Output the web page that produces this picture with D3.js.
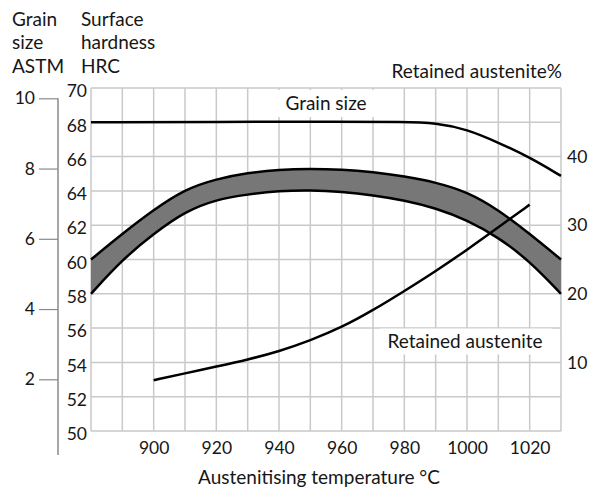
<!DOCTYPE html>
<html>
<head>
<meta charset="utf-8">
<script src="https://cdn.jsdelivr.net/npm/d3@7"></script>
<style>
  body { margin: 0; background: #fff; }
  svg { display: block; font-family: Lato, "Open Sans", sans-serif; }
</style>
</head>
<body>
<div id="chart"></div>
<script>
const temps = [880, 890, 900, 910, 920, 930, 940, 950, 960, 970, 980, 990, 1000, 1010, 1020, 1030];
const hardnessUpper = [60, 61.5, 62.9, 64.1, 64.7, 65.05, 65.25, 65.3, 65.25, 65.1, 64.85, 64.5, 63.95, 62.9, 61.5, 60.0];
const hardnessLower = [58, 60.0, 61.5, 62.8, 63.5, 63.8, 64.0, 64.05, 63.95, 63.75, 63.45, 63.0, 62.3, 61.3, 59.9, 58.0];

const grainTemps = [880, 920, 960, 980, 990, 1000, 1010, 1020, 1030];
const grainSize = [9.32, 9.33, 9.33, 9.33, 9.3, 9.12, 8.74, 8.32, 7.79];

const austTemps = [900, 910, 920, 930, 940, 950, 960, 970, 980, 990, 1000, 1010, 1020];
const austenite = [7.4, 8.4, 9.4, 10.4, 11.6, 13.2, 15.1, 17.6, 20.4, 23.3, 26.4, 29.7, 33.0];

const xTicks = [900, 920, 940, 960, 980, 1000, 1020];
const hrcTicks = [50, 52, 54, 56, 58, 60, 62, 64, 66, 68, 70];
const grainTicks = [2, 4, 6, 8, 10];
const austTicks = [10, 20, 30, 40];

const width = 598, height = 489;
const marginTop = 88, marginRight = 37, marginBottom = 58, marginLeft = 91;
const ink = "#161616";
const gridColor = "#c9c9c9";
const tickFont = 17.5, labelFont = 19;

const x = d3.scaleLinear().domain([880, 1030]).range([marginLeft, width - marginRight]);
const y = d3.scaleLinear().domain([50, 70]).range([height - marginBottom, marginTop]);
const yGrain = d3.scaleLinear().domain([2, 10]).range([379.3, 98.3]);
const yAust = d3.scaleLinear().domain([0, 50]).range([height - marginBottom, marginTop]);

const svg = d3.select("#chart").append("svg")
    .attr("width", width)
    .attr("height", height)
    .attr("viewBox", [0, 0, width, height]);

// grid
const grid = svg.append("g").attr("stroke", gridColor).attr("stroke-width", 1.5);
grid.selectAll(".v")
    .data(d3.range(880, 1031, 10))
    .join("line")
    .attr("x1", d => x(d)).attr("x2", d => x(d))
    .attr("y1", y(50)).attr("y2", y(70));
grid.selectAll(".h")
    .data(d3.range(50, 71, 2))
    .join("line")
    .attr("x1", x(880)).attr("x2", x(1030))
    .attr("y1", d => y(d)).attr("y2", d => y(d));

// white boxes behind in-plot labels
svg.append("rect")
    .attr("x", x(955) - 55).attr("y", y(70) + 2)
    .attr("width", 110).attr("height", 27)
    .attr("fill", "#fff");
svg.append("rect")
    .attr("x", x(1000) - 87).attr("y", y(55.1) - 15)
    .attr("width", 172).attr("height", 26)
    .attr("fill", "#fff");

// hardness band
const band = d3.area()
    .curve(d3.curveBasis)
    .x((d, i) => x(temps[i]))
    .y0((d, i) => y(hardnessLower[i]))
    .y1((d, i) => y(hardnessUpper[i]));
svg.append("path")
    .datum(temps)
    .attr("fill", "#777777")
    .attr("d", band);

const hLine = vals => d3.line()
    .curve(d3.curveBasis)
    .x((d, i) => x(temps[i]))
    .y((d, i) => y(vals[i]))(temps);

[hardnessUpper, hardnessLower].forEach(vals => {
    svg.append("path")
        .attr("fill", "none")
        .attr("stroke", "#000")
        .attr("stroke-width", 2.5)
        .attr("d", hLine(vals));
});

// grain size line
svg.append("path")
    .datum(grainTemps)
    .attr("fill", "none")
    .attr("stroke", "#000")
    .attr("stroke-width", 2.5)
    .attr("d", d3.line()
        .curve(d3.curveBasis)
        .x(d => x(d))
        .y((d, i) => yGrain(grainSize[i])));

// retained austenite line
svg.append("path")
    .datum(austTemps)
    .attr("fill", "none")
    .attr("stroke", "#000")
    .attr("stroke-width", 2.5)
    .attr("d", d3.line()
        .curve(d3.curveBasis)
        .x(d => x(d))
        .y((d, i) => yAust(austenite[i])));

// x axis labels
svg.append("g")
    .attr("transform", `translate(0,${y(50)})`)
    .call(d3.axisBottom(x).tickValues(xTicks).tickSize(0).tickPadding(11).tickFormat(d3.format("d")))
    .call(g => g.select(".domain").remove())
    .call(g => g.selectAll("text").attr("fill", ink).attr("font-size", tickFont).attr("font-family", "Lato"));

// HRC axis (labels only)
svg.append("g")
    .attr("transform", `translate(${marginLeft},0)`)
    .call(d3.axisLeft(y).tickValues(hrcTicks).tickSize(0).tickPadding(4))
    .call(g => g.select(".domain").remove())
    .call(g => g.selectAll("text").attr("fill", ink).attr("font-size", tickFont)
        .attr("font-family", "Lato").attr("dy", "0.5em"));

// Grain size axis
svg.append("g")
    .attr("transform", "translate(58,0)")
    .call(d3.axisLeft(yGrain).tickValues(grainTicks).tickSize(19).tickPadding(4))
    .call(g => g.select(".domain").remove())
    .call(g => g.selectAll(".tick line").attr("stroke", "#8a8a8a").attr("stroke-width", 1.2))
    .call(g => g.selectAll("text").attr("fill", ink).attr("font-size", tickFont).attr("font-family", "Lato"))
    .call(g => g.append("line")
        .attr("x1", 0).attr("x2", 0)
        .attr("y1", yGrain(10)).attr("y2", 455)
        .attr("stroke", "#8a8a8a").attr("stroke-width", 1.5));

// Retained austenite axis
svg.append("g")
    .attr("transform", `translate(${width - marginRight},0)`)
    .call(d3.axisRight(yAust).tickValues(austTicks).tickSize(0).tickPadding(6))
    .call(g => g.select(".domain").remove())
    .call(g => g.selectAll("text").attr("fill", ink).attr("font-size", tickFont).attr("font-family", "Lato"));

// titles
const txt = svg.append("g").attr("fill", ink).attr("font-size", labelFont);
[["Grain", 26], ["size", 49], ["ASTM", 73]].forEach(([t, yy]) =>
    txt.append("text").attr("x", 12).attr("y", yy).text(t));
[["Surface", 26], ["hardness", 49], ["HRC", 73]].forEach(([t, yy]) =>
    txt.append("text").attr("x", 81).attr("y", yy).text(t));
txt.append("text")
    .attr("x", width - marginRight + 1).attr("y", 78)
    .attr("text-anchor", "end")
    .text("Retained austenite%");
txt.append("text")
    .attr("x", x(955)).attr("y", y(70) + 22)
    .attr("text-anchor", "middle")
    .text("Grain size");
txt.append("text")
    .attr("x", x(1000) - 2).attr("y", y(55.1) + 4)
    .attr("text-anchor", "middle")
    .text("Retained austenite");
txt.append("text")
    .attr("x", 319).attr("y", 484)
    .attr("text-anchor", "middle")
    .text("Austenitising temperature \u00B0C");
</script>
</body>
</html>
